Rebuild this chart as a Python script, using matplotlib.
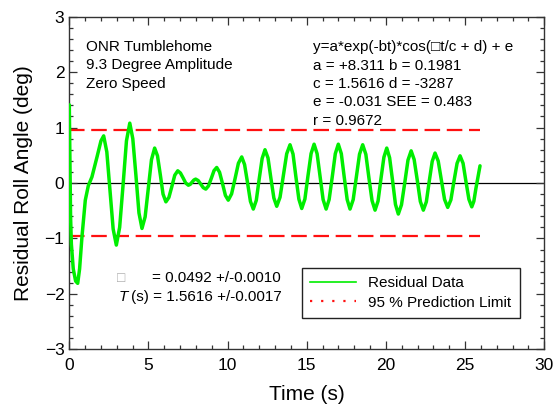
import matplotlib
matplotlib.use("Agg")
import matplotlib.pyplot as plt
from matplotlib.lines import Line2D
from matplotlib.ticker import MultipleLocator

plt.rcParams['font.family'] = ['Liberation Sans', 'DejaVu Sans']

# Residual roll angle data (time s, deg)
time_s = [0.00, 0.04, 0.08, 0.13, 0.25, 0.40, 0.53, 0.65, 0.80, 1.01, 1.20, 1.43, 1.75, 2.00, 2.17,
          2.37, 2.57, 2.77, 2.97, 3.18, 3.40, 3.61, 3.82, 4.01, 4.21, 4.40, 4.59,
          4.79, 4.99, 5.19, 5.39, 5.57, 5.75, 5.92, 6.10, 6.29, 6.48, 6.66, 6.85,
          7.02, 7.19, 7.35, 7.52, 7.64, 7.75, 7.87, 7.98, 8.14, 8.30, 8.46, 8.62,
          8.79, 8.97, 9.14, 9.31, 9.49, 9.68, 9.86, 10.04, 10.25, 10.47, 10.68, 10.89,
          11.07, 11.26, 11.44, 11.62, 11.81, 11.99, 12.18, 12.36, 12.55, 12.73, 12.92, 13.10,
          13.31, 13.52, 13.73, 13.94, 14.13, 14.31, 14.50, 14.68, 14.88, 15.07, 15.27, 15.46,
          15.65, 15.84, 16.03, 16.22, 16.41, 16.61, 16.80, 16.99, 17.18, 17.36, 17.55, 17.73,
          17.93, 18.13, 18.33, 18.53, 18.73, 18.92, 19.12, 19.31, 19.50, 19.68, 19.87, 20.05,
          20.23, 20.42, 20.60, 20.78, 20.98, 21.19, 21.39, 21.59, 21.78, 21.98, 22.17, 22.36,
          22.55, 22.73, 22.92, 23.10, 23.30, 23.50, 23.70, 23.90, 24.10, 24.29, 24.49, 24.68,
          24.87, 25.05, 25.24, 25.42, 25.55, 25.68, 25.81, 25.94]
residual = [1.41, 0.40, -0.60, -1.10, -1.55, -1.77, -1.81, -1.55, -0.97, -0.31, -0.05, 0.11, 0.47, 0.76, 0.85,
            0.56, -0.135, -0.83, -1.12, -0.80, -0.02, 0.76, 1.08, 0.80, 0.13, -0.54, -0.82,
            -0.61, -0.095, 0.42, 0.63, 0.49, 0.145, -0.20, -0.34, -0.26, -0.06, 0.14, 0.22,
            0.18, 0.09, 0.00, -0.04, -0.024, 0.015, 0.054, 0.07, 0.044, -0.02, -0.084, -0.11,
            -0.053, 0.085, 0.223, 0.28, 0.194, -0.015, -0.224, -0.31, -0.196, 0.08, 0.356, 0.47,
            0.332, 0.00, -0.332, -0.47, -0.313, 0.065, 0.443, 0.60, 0.451, 0.09, -0.271, -0.42,
            -0.257, 0.135, 0.527, 0.69, 0.522, 0.115, -0.292, -0.46, -0.29, 0.12, 0.53, 0.70,
            0.529, 0.115, -0.299, -0.47, -0.299, 0.115, 0.529, 0.70, 0.529, 0.115, -0.299, -0.47,
            -0.30, 0.11, 0.52, 0.69, 0.517, 0.10, -0.317, -0.49, -0.326, 0.07, 0.466, 0.63,
            0.456, 0.035, -0.386, -0.56, -0.393, 0.01, 0.413, 0.58, 0.423, 0.045, -0.333, -0.49,
            -0.339, 0.025, 0.389, 0.54, 0.396, 0.05, -0.296, -0.44, -0.304, 0.025, 0.354, 0.49,
            0.355, 0.03, -0.295, -0.43, -0.33, -0.10, 0.10, 0.31]

pred_limit = 0.95
limit_t = [0.0, 25.94]

fit_lines = ["y=a*exp(-bt)*cos(\u25a1t/c + d) + e",
             "a = +8.311 b = 0.1981",
             "c = 1.5616 d = -3287",
             "e = -0.031 SEE = 0.483",
             "r = 0.9672"]
title_lines = ["ONR Tumblehome", "9.3 Degree Amplitude", "Zero Speed"]

W, H = 555, 419
fig = plt.figure(figsize=(W / 100, H / 100), dpi=100)
ax = fig.add_axes([69.3 / W, 1 - 349.3 / H, (544.3 - 69.3) / W, (349.3 - 16.7) / H])

ax.axhline(0, color='black', lw=0.9, zorder=1)
ax.plot(limit_t, [pred_limit, pred_limit], color='#ff1010', lw=1.6, dashes=(7, 3), zorder=2)
ax.plot(limit_t, [-pred_limit, -pred_limit], color='#ff1010', lw=1.6, dashes=(7, 3), zorder=2)
ax.plot(time_s, residual, color='#00ee00', lw=2.5, zorder=3,
        solid_joinstyle='round', solid_capstyle='round')

ax.set_xlim(0, 30)
ax.set_ylim(-3, 3)
ax.xaxis.set_major_locator(MultipleLocator(5))
ax.xaxis.set_minor_locator(MultipleLocator(1))
ax.yaxis.set_major_locator(MultipleLocator(1))
ax.yaxis.set_minor_locator(MultipleLocator(0.2))
ax.tick_params(which='both', direction='in', top=True, right=True, width=0.9, color='#333333',
               labelsize=12.5)
ax.tick_params(which='major', length=6)
ax.tick_params(which='minor', length=3)
ax.tick_params(axis='x', pad=6)
for s in ax.spines.values():
    s.set_linewidth(1.0)
    s.set_color('#333333')

ax.set_xlabel("Time (s)", fontsize=15, labelpad=9)
ax.set_ylabel("Residual Roll Angle (deg)", fontsize=15, labelpad=8)

def ft(x, y, s, **kw):
    fig.text(x / W, 1 - y / H, s, va='center', **kw)

for i, s in enumerate(title_lines):
    ft(86, 47 + i * 18.5, s, fontsize=11)
for i, s in enumerate(fit_lines):
    ft(313, 47 + i * 18.5, s, fontsize=11)

ft(117, 278, "\u25a1", fontsize=10, color='#aaaaaa', style='italic')
ft(152, 278, "= 0.0492 +/-0.0010", fontsize=11)
ft(119, 297, "T", fontsize=11, style='italic')
ft(131, 297, "(s) = 1.5616 +/-0.0017", fontsize=11)

handles = [Line2D([], [], color='#00ee00', lw=1.2),
           Line2D([], [], color='#ff1010', lw=1.6, linestyle=(0, (1, 4)))]
leg = fig.legend(handles, ["Residual Data", "95 % Prediction Limit"],
                 loc='upper left', bbox_to_anchor=(302 / W, 1 - 268 / H),
                 fontsize=11, frameon=True, fancybox=False, framealpha=1,
                 edgecolor='#222222', handlelength=3.0, borderpad=0.55, labelspacing=0.35,
                 handletextpad=0.8, borderaxespad=0)
leg.get_frame().set_linewidth(1.0)

fig.savefig("out.png", dpi=100)
